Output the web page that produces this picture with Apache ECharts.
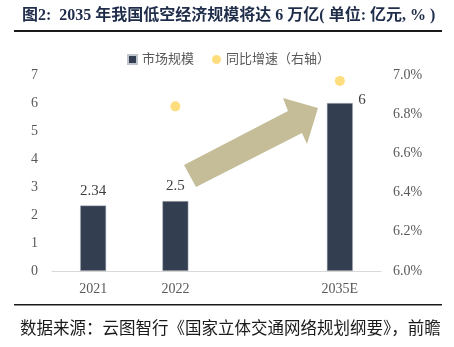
<!DOCTYPE html>
<html><head><meta charset="utf-8">
<script src="https://cdn.jsdelivr.net/npm/echarts@6/dist/echarts.min.js"></script>
<style>html,body{margin:0;padding:0;background:#fff}#c{width:454px;height:347px}</style>
</head><body><div id="c"></div>
<script>
var categories = ['2021', '2022', '', '2035E'];
var marketScale = [2.34, 2.5, null, 6];
var growthRate = [null, 6.84, null, 6.97];
var leftTicks = {min: 0, max: 7, interval: 1};
var rightTicks = {min: 6, max: 7, interval: 0.2};

var serif = '"Liberation Serif", "Noto Sans CJK SC", serif';
var chart = echarts.init(document.getElementById('c'), null, {renderer: 'canvas'});
chart.setOption({
  animation: false,
  backgroundColor: '#ffffff',
  textStyle: {fontFamily: serif},
  grid: {left: 52, right: 73, top: 75, bottom: 76},
  legend: {
    left: 122, top: 48, itemGap: 18, itemWidth: 9, itemHeight: 9,
    textStyle: {fontFamily: serif, fontSize: 13, color: '#595959'},
    data: [{name: '市场规模', icon: 'rect'}, {name: '同比增速（右轴）', icon: 'circle'}]
  },
  xAxis: {
    type: 'category', data: categories,
    axisLine: {lineStyle: {color: '#d9d9d9'}},
    axisTick: {show: false},
    axisLabel: {color: '#595959', fontSize: 14, fontFamily: serif, margin: 11}
  },
  yAxis: [{
    type: 'value', min: leftTicks.min, max: leftTicks.max, interval: leftTicks.interval,
    splitLine: {show: false}, axisLine: {show: false}, axisTick: {show: false},
    axisLabel: {color: '#595959', fontSize: 14, fontFamily: serif, margin: 14}
  }, {
    type: 'value', min: rightTicks.min, max: rightTicks.max, interval: rightTicks.interval,
    splitLine: {show: false}, axisLine: {show: false}, axisTick: {show: false},
    axisLabel: {color: '#595959', fontSize: 14, fontFamily: serif, margin: 12,
      formatter: function (v) { return v.toFixed(1) + '%'; }}
  }],
  series: [{
    name: '市场规模', type: 'bar', barWidth: 26,
    data: marketScale.map(function (v, i) {
      if (i === 3) return {value: v, label: {position: 'top', offset: [22, 12]}};
      return v;
    }),
    itemStyle: {color: '#333f50', borderColor: '#c0c4cc', borderWidth: 0.5},
    label: {show: true, position: 'top', color: '#404040', fontSize: 15, fontFamily: serif, distance: 7}
  }, {
    name: '同比增速（右轴）', type: 'scatter', yAxisIndex: 1, symbolSize: 10,
    data: growthRate,
    itemStyle: {color: '#fdd55c'}
  }],
  graphic: [
    {type: 'text', left: 22, top: 8, style: {text: '图2:  2035 年我国低空经济规模将达 6 万亿( 单位: 亿元, % )',
      font: 'bold 16px ' + serif, fill: '#1f2d4a'}},
    {type: 'rect', shape: {x: 14, y: 30, width: 428, height: 2}, style: {fill: '#1a1a1a'}},
    {type: 'rect', shape: {x: 14, y: 304, width: 428, height: 1.5}, style: {fill: '#1a1a1a'}},
    {type: 'text', left: 20, top: 321, style: {text: '数据来源：云图智行《国家立体交通网络规划纲要》，前瞻',
      font: '16.5px ' + serif, fill: '#1a1a1a'}},
    {type: 'polygon', shape: {points: [[184,165],[288,111],[283,98],[318,108],[307,144],[302,133],[196,187]]},
      style: {fill: '#c4bd97'}}
  ]
});
</script></body></html>
